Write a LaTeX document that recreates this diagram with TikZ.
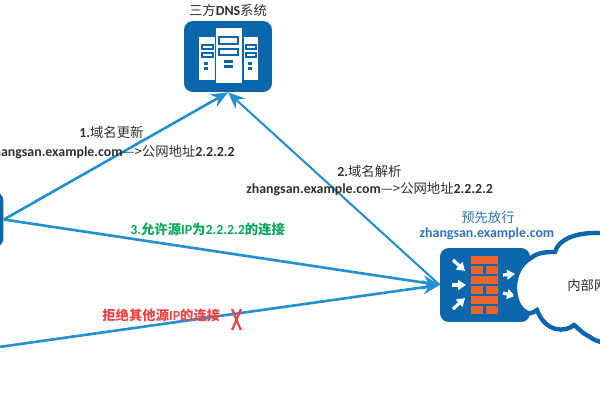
\documentclass[tikz,border=0pt]{standalone}
\usepackage{fontspec}
\setmainfont{Noto Sans CJK SC}
\newfontfamily\latfont[Scale=1.04]{Carlito}
\usetikzlibrary{arrows.meta, positioning}
\definecolor{iconblue}{HTML}{0B66AB}
\definecolor{linkblue}{HTML}{2590D0}
\definecolor{brick}{HTML}{E9652D}
\definecolor{passgreen}{HTML}{0BA85C}
\definecolor{denyred}{HTML}{F04444}
\definecolor{notedark}{HTML}{303030}
\definecolor{noteblue}{HTML}{2F72BC}
\newcommand{\lat}[1]{{\latfont\bfseries #1}}
\tikzset{
  iconbox/.style={draw=none, fill=iconblue, rounded corners=5pt, inner sep=0pt},
  link/.style={draw=linkblue, line width=1.5pt, -{Stealth[length=9.5pt,width=8pt]}},
  lbl/.style={inner sep=0pt, text=notedark, font=\fontsize{7.6pt}{9pt}\selectfont},
  boldlbl/.style={lbl, font=\fontsize{7.6pt}{9pt}\selectfont\bfseries},
  whitearrow/.style={draw=white, line width=1.8pt, -{Stealth[length=4.5pt,width=5.5pt,inset=0pt]}},
  tower/.style={fill=white, draw=none},
  slot/.style={draw=iconblue, fill=white, line width=0.7pt},
}
\begin{document}
\begin{tikzpicture}[x=0.02cm, y=-0.02cm, >=Stealth]
  \useasboundingbox (0,0) rectangle (600,400);
  % DNS server icon
  \node[iconbox, minimum width=1.76cm, minimum height=1.42cm] (dns) at (228,56.5) {};
  \fill[tower] (216,28) rectangle (242,83);
  \fill[tower] (199,37) rectangle (215,80);
  \fill[tower] (244,37) rectangle (258,80);
  \draw[slot] (219,37) rectangle (238,44);
  \draw[slot] (219,49) rectangle (238,55);
  \foreach \xa/\xb in {202/213, 246/256} {
    \draw[slot] (\xa,45) rectangle (\xb,49);
    \draw[slot] (\xa,53) rectangle (\xb,57);
    \fill[iconblue] (\xa+2,62) rectangle (\xa+6,65);
    \fill[iconblue] (\xa+2,67) rectangle (\xa+6,70);
  }
  \fill[iconblue] (224,60) rectangle (233,63);
  \fill[iconblue] (224,65) rectangle (233,68);
  \node[lbl] (dnstitle) at (228,10) {三方\lat{DNS}系统};
  % client on the left edge
  \node[iconbox, minimum width=1.26cm, minimum height=1.1cm] (host) at (-28,219.5) {};
  \node[lbl, anchor=east] (hostname) at (1,277) {\lat{n}};
  % firewall
  \node[iconbox, minimum width=1.8cm, minimum height=1.48cm] (fw) at (485,285) {};
  \foreach \ya in {256,276,296} {
    \fill[brick] (471,\ya) rectangle (498,\ya+8);
    \fill[brick] (471,\ya+10) rectangle (483.5,\ya+18);
    \fill[brick] (486,\ya+10) rectangle (498,\ya+18);
  }
  \draw[whitearrow] (453,260) -- (465,271);
  \draw[whitearrow] (452,285) -- (466,285);
  \draw[whitearrow] (453,309) -- (465,298);
  \draw[whitearrow] (503,275) -- (515,274);
  \draw[whitearrow] (503,293) -- (515,296);
  % internal network cloud
  \draw[draw=iconblue, fill=white, line width=2.5pt]
    (640,340) .. controls (620,345) and (600,345) .. (590,337)
    .. controls (582,333) and (578,328) .. (574,325)
    .. controls (565,333) and (545,332) .. (537,310)
    .. controls (532,314) and (528,314) .. (526,312)
    .. controls (512,305) and (509,270) .. (531,258)
    .. controls (538,252) and (548,252) .. (555,252)
    .. controls (558,240) and (575,232) .. (600,233)
    .. controls (615,233) and (630,238) .. (640,245);
  \node[lbl, anchor=west] (lan) at (567,285) {内部网};
  % connectors
  \coordinate (rejectsrc) at (-8,348);
  \draw[link] (host.east) -- (dns.south);
  \draw[link, line width=1.2pt] (fw.west) -- (dns.south);
  \draw[link] (host.east) -- (fw.west);
  \draw[link] (rejectsrc) -- (fw.west);
  % labels
  \node[lbl, anchor=west] (updatehead) at (79,132) {\lat{1.}域名更新};
  \node[lbl, anchor=east] (updatetext) at (235,152) {\lat{zhangsan.example.com}—>公网地址\lat{2.2.2.2}};
  \node[lbl, anchor=west] (resolvehead) at (337,171) {\lat{2.}域名解析};
  \node[lbl, anchor=west] (resolvetext) at (246,189) {\lat{zhangsan.example.com}—>公网地址\lat{2.2.2.2}};
  \node[boldlbl, anchor=west, text=passgreen] (allowtext) at (130,229) {\lat{3.}允许源\lat{IP}为\lat{2.2.2.2}的连接};
  \node[boldlbl, anchor=west, text=denyred] (denytext) at (102,315) {拒绝其他源\lat{IP}的连接};
  \node[lbl, text=noteblue] (passhead) at (488,217) {预先放行};
  \node[lbl, text=noteblue] (passtext) at (487,234) {\lat{zhangsan.example.com}};
  % cross on the rejected link
  \draw[denyred, line width=1.3pt] (232,309) .. controls (236,318) and (237,322) .. (241,330);
  \draw[denyred, line width=1.3pt] (241,309) .. controls (237,318) and (236,322) .. (232,330);
\end{tikzpicture}
\end{document}
